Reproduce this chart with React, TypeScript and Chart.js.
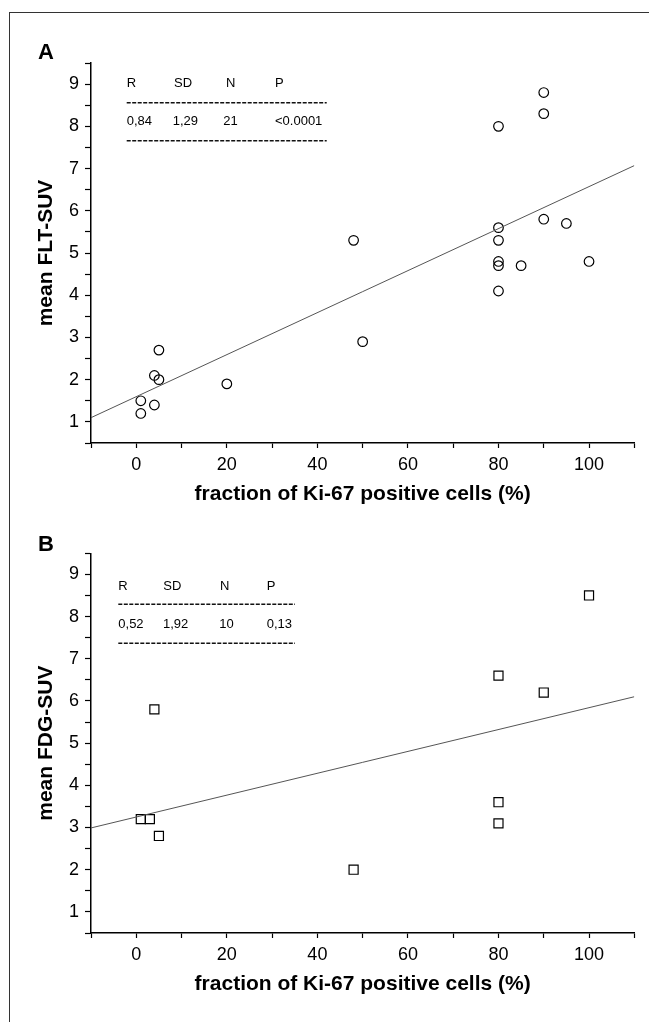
import React, { useEffect, useRef } from 'react';
import { Chart, registerables } from 'chart.js';

Chart.register(...registerables);

// ---- data ----
const ki67A = [1, 1, 4, 4, 5, 5, 20, 48, 50, 80, 80, 80, 80, 80, 80, 85, 90, 90, 90, 95, 100];
const fltSuv = [1.5, 1.2, 2.1, 1.4, 2.0, 2.7, 1.9, 5.3, 2.9, 8.0, 5.6, 5.3, 4.8, 4.7, 4.1, 4.7, 8.8, 8.3, 5.8, 5.7, 4.8];
const fitAX = [-10, 110];
const fitAY = [1.1, 7.07];

const ki67B = [1, 3, 4, 5, 48, 80, 80, 80, 90, 100];
const fdgSuv = [3.2, 3.2, 5.8, 2.8, 2.0, 6.6, 3.6, 3.1, 6.2, 8.5];
const fitBX = [-10, 110];
const fitBY = [2.99, 6.1];

const xTickLabels = [0, 20, 40, 60, 80, 100];
const yTickLabels = [1, 2, 3, 4, 5, 6, 7, 8, 9];

const statsHeader = ['R', 'SD', 'N', 'P'];
const statsA = ['0,84', '1,29', '21', '<0.0001'];
const statsB = ['0,52', '1,92', '10', '0,13'];

const xTitle = 'fraction of Ki-67 positive cells (%)';

const SANS = '"Liberation Sans", Arial, Helvetica, sans-serif';

type TableLayout = {
  cols: number[];
  valCols: number[];
  rowHeader: number;
  dash1: number;
  rowVals: number;
  dash2: number;
  dashEnd: number;
};

type PanelProps = {
  letter: string;
  yTitle: string;
  xs: number[];
  ys: number[];
  fitX: number[];
  fitY: number[];
  pointStyle: 'circle' | 'rect';
  radius: number;
  values: string[];
  table: TableLayout;
  letterY: number;
  top: number;
};

function Panel(p: PanelProps) {
  const ref = useRef<HTMLCanvasElement | null>(null);

  useEffect(() => {
    if (!ref.current) return;
    const points = p.xs.map((x, i) => ({ x, y: p.ys[i] }));
    const fit = p.fitX.map((x, i) => ({ x, y: p.fitY[i] }));

    const annotations = {
      id: 'annotations',
      afterDraw(chart: any) {
        const { ctx, chartArea } = chart;
        const L = chartArea.left;
        const T = chartArea.top;
        ctx.save();
        ctx.fillStyle = '#000';
        ctx.font = `bold 22px ${SANS}`;
        ctx.textAlign = 'left';
        ctx.textBaseline = 'middle';
        ctx.fillText(p.letter, 30, p.letterY);
        const t = p.table;
        ctx.font = `13px ${SANS}`;
        statsHeader.forEach((h, i) => ctx.fillText(h, L + t.cols[i], T + t.rowHeader));
        p.values.forEach((v, i) => ctx.fillText(v, L + t.valCols[i], T + t.rowVals));
        ctx.strokeStyle = '#111';
        ctx.lineWidth = 1.5;
        ctx.setLineDash([4, 1.5]);
        [t.dash1, t.dash2].forEach((dy) => {
          ctx.beginPath();
          ctx.moveTo(L + t.cols[0], T + dy);
          ctx.lineTo(L + t.dashEnd, T + dy);
          ctx.stroke();
        });
        ctx.restore();
      },
    };

    const chart = new Chart(ref.current, {
      type: 'scatter',
      data: {
        datasets: [
          {
            data: fit,
            showLine: true,
            borderColor: '#555',
            borderWidth: 1,
            pointRadius: 0,
            fill: false,
          } as any,
          {
            data: points,
            pointStyle: p.pointStyle,
            pointRadius: p.radius,
            pointBackgroundColor: 'rgba(255,255,255,0)',
            pointBorderColor: '#000',
            pointBorderWidth: 1.2,
          },
        ],
      },
      options: {
        animation: false,
        responsive: false,
        maintainAspectRatio: false,
        layout: { padding: { left: 0, top: p.top, right: 22.7, bottom: 0 } },
        plugins: {
          legend: { display: false },
          tooltip: { enabled: false },
        },
        scales: {
          x: {
            type: 'linear',
            min: -10,
            max: 110,
            afterFit(scale: any) {
              scale.height = 65;
            },
            border: { display: true, color: '#000', width: 1.5 },
            grid: {
              display: true,
              drawOnChartArea: false,
              drawTicks: true,
              tickLength: 5,
              color: '#000',
              tickWidth: 1.2,
            },
            ticks: {
              stepSize: 10,
              autoSkip: false,
              maxRotation: 0,
              padding: 6,
              color: '#000',
              font: { family: SANS, size: 18 },
              callback: (v: any) => (xTickLabels.includes(Number(v)) ? String(v) : ''),
            },
            title: {
              display: true,
              text: xTitle,
              color: '#000',
              font: { family: SANS, size: 21, weight: 'bold' },
              padding: { top: 0, bottom: 1 },
            },
          },
          y: {
            type: 'linear',
            min: 0.5,
            max: 9.5,
            afterFit(scale: any) {
              scale.width = 83;
            },
            border: { display: true, color: '#000', width: 1.5 },
            grid: {
              display: true,
              drawOnChartArea: false,
              drawTicks: true,
              tickLength: 6,
              color: '#000',
              tickWidth: 1.2,
            },
            ticks: {
              stepSize: 0.5,
              autoSkip: false,
              padding: 6,
              color: '#000',
              font: { family: SANS, size: 18 },
              callback: (v: any) => (yTickLabels.includes(Number(v)) ? String(v) : ''),
            },
            title: {
              display: true,
              text: p.yTitle,
              color: '#000',
              font: { family: SANS, size: 21, weight: 'bold' },
              padding: { top: 26, bottom: 0 },
            },
          },
        },
      },
      plugins: [annotations],
    });
    return () => chart.destroy();
  }, []);

  return <canvas ref={ref} width={649} height={500} style={{ display: 'block', width: 649, height: 500 }} />;
}

export default function App() {
  return (
    <div style={{ position: 'relative', width: 649, height: 1014, overflow: 'hidden' }}>
      <div
        style={{
          position: 'absolute',
          left: 1,
          top: 4,
          width: 700,
          height: 1100,
          borderLeft: '1px solid #333',
          borderTop: '1px solid #333',
        }}
      />
      <div style={{ position: 'absolute', left: 0, top: 0 }}>
        <Panel
          letter="A"
          yTitle="mean FLT-SUV"
          xs={ki67A}
          ys={fltSuv}
          fitX={fitAX}
          fitY={fitAY}
          pointStyle="circle"
          radius={4.8}
          values={statsA}
          table={{
            cols: [35.7, 83, 135, 184],
            valCols: [35.7, 81.7, 132.3, 184],
            rowHeader: 20.3,
            dash1: 39.7,
            rowVals: 58.7,
            dash2: 77.7,
            dashEnd: 235.7,
          }}
          letterY={45}
          top={55}
        />
      </div>
      <div style={{ position: 'absolute', left: 0, top: 490 }}>
        <Panel
          letter="B"
          yTitle="mean FDG-SUV"
          xs={ki67B}
          ys={fdgSuv}
          fitX={fitBX}
          fitY={fitBY}
          pointStyle="rect"
          radius={6.4}
          values={statsB}
          table={{
            cols: [27.3, 72.3, 129, 175.7],
            valCols: [27.3, 72, 128.3, 175.7],
            rowHeader: 33.4,
            dash1: 51,
            rowVals: 71,
            dash2: 90,
            dashEnd: 204,
          }}
          letterY={47}
          top={55.3}
        />
      </div>
    </div>
  );
}
